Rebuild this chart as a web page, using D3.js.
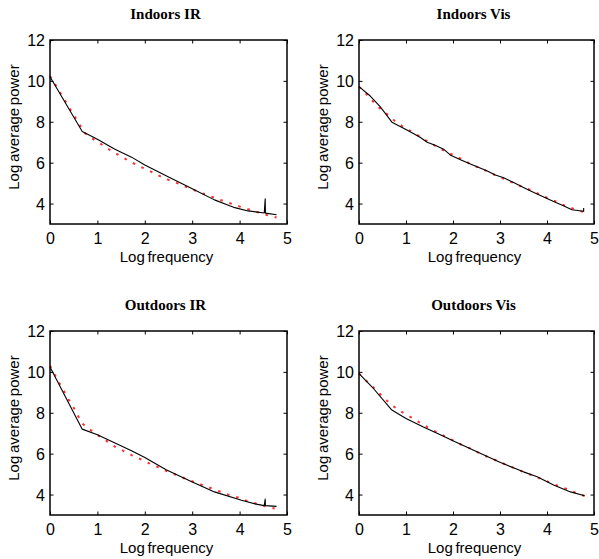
<!DOCTYPE html>
<html>
<head>
<meta charset="utf-8">
<script src="https://cdn.jsdelivr.net/npm/d3@7"></script>
<style>
  html, body { margin: 0; padding: 0; background: #fff; }
  svg { display: block; }
  .tick text { font-family: "Liberation Sans", Arial, Helvetica, sans-serif; font-size: 16px; fill: #000; }
  .lab { font-family: "Liberation Sans", Arial, Helvetica, sans-serif; font-size: 15px; fill: #000; word-spacing: -1.5px; }
  .ttl { font-family: "Liberation Serif", "Times New Roman", Times, serif; font-size: 15px; font-weight: bold; fill: #000; }
</style>
</head>
<body>
<svg id="chart" width="599" height="559"></svg>
<script>
// ---- data (x = log frequency, y = log average power) ----
const titles = ["Indoors IR", "Indoors Vis", "Outdoors IR", "Outdoors Vis"];
const xTicks = [0, 1, 2, 3, 4, 5];
const yTicks = [4, 6, 8, 10, 12];
const xLabel = "Log frequency";
const yLabel = "Log average power";

const indoorsIR = [[0,10.2],[0.68,7.52],[1.0,7.15],[1.36,6.67],[1.72,6.27],[2.0,5.89],[2.46,5.35],[2.98,4.75],[3.47,4.18],[3.79,3.89],[3.9,3.80],[4.18,3.64],[4.52,3.54],[4.54,4.23],[4.545,3.53],[4.78,3.45]];
const indoorsIRFit = [[0,10.24],[0.73,7.46],[0.89,7.19],[1.07,6.92],[1.24,6.66],[1.42,6.41],[1.60,6.17],[1.77,5.96],[1.95,5.76],[2.14,5.55],[2.31,5.35],[2.50,5.16],[2.68,5.0],[2.86,4.83],[3.05,4.65],[3.24,4.48],[3.44,4.31],[3.63,4.15],[3.83,3.99],[4.02,3.84],[4.21,3.70],[4.40,3.56],[4.59,3.43],[4.78,3.32]];

const indoorsVis = [[0,9.72],[0.24,9.26],[0.45,8.74],[0.70,7.98],[1.0,7.62],[1.30,7.24],[1.45,7.0],[1.62,6.85],[1.80,6.66],[1.94,6.38],[2.16,6.14],[2.37,5.94],[2.55,5.76],[2.72,5.60],[2.9,5.40],[3.08,5.26],[3.29,5.03],[3.5,4.79],[3.72,4.54],[3.93,4.32],[4.14,4.10],[4.35,3.89],[4.53,3.70],[4.78,3.62],[4.78,3.78]];
const indoorsVisFit = [[0,9.72],[0.16,9.35],[0.30,8.99],[0.44,8.66],[0.6,8.37],[0.75,8.06],[0.91,7.80],[1.09,7.55],[1.27,7.31],[1.43,7.08],[1.61,6.84],[1.79,6.61],[1.98,6.40],[2.16,6.20],[2.33,5.99],[2.52,5.78],[2.71,5.60],[2.9,5.39],[3.08,5.21],[3.27,5.02],[3.45,4.84],[3.65,4.66],[3.82,4.47],[4.01,4.28],[4.2,4.09],[4.39,3.89],[4.58,3.73],[4.78,3.58]];

const outdoorsIR = [[0,10.24],[0.68,7.2],[1.0,6.92],[1.36,6.54],[1.72,6.14],[2.0,5.81],[2.45,5.21],[2.98,4.64],[3.47,4.13],[4.04,3.72],[4.35,3.53],[4.52,3.46],[4.54,3.78],[4.545,3.46],[4.78,3.42]];
const outdoorsIRFit = [[0,10.3],[0.19,9.48],[0.30,9.04],[0.39,8.66],[0.5,8.25],[0.59,7.85],[0.70,7.44],[0.86,7.15],[1.03,6.87],[1.2,6.61],[1.36,6.36],[1.55,6.14],[1.73,5.92],[1.91,5.73],[2.09,5.53],[2.28,5.34],[2.45,5.16],[2.64,4.98],[2.83,4.80],[3.02,4.63],[3.21,4.47],[3.4,4.31],[3.58,4.15],[3.78,3.98],[3.97,3.86],[4.16,3.69],[4.35,3.56],[4.54,3.43],[4.74,3.32]];

const outdoorsVis = [[0,9.92],[0.28,9.26],[0.69,8.15],[1.0,7.72],[1.37,7.30],[1.73,6.92],[2.01,6.62],[2.44,6.17],[3.01,5.57],[3.5,5.11],[3.79,4.87],[4.14,4.47],[4.5,4.13],[4.8,3.94]];
const outdoorsVisFit = [[0,9.92],[0.16,9.56],[0.31,9.23],[0.45,8.91],[0.6,8.58],[0.75,8.29],[0.91,8.04],[1.09,7.80],[1.27,7.55],[1.43,7.33],[1.61,7.10],[1.79,6.89],[1.98,6.67],[2.16,6.46],[2.35,6.27],[2.53,6.06],[2.72,5.86],[2.91,5.68],[3.09,5.50],[3.28,5.32],[3.46,5.14],[3.65,4.97],[3.85,4.79],[4.04,4.61],[4.23,4.43],[4.42,4.27],[4.61,4.09],[4.8,3.93]];

const measured = [indoorsIR, indoorsVis, outdoorsIR, outdoorsVis];
const fitted = [indoorsIRFit, indoorsVisFit, outdoorsIRFit, outdoorsVisFit];

// ---- layout ----
const panels = [
  {left: 50,  right: 287, top: 40,  bottom: 224},
  {left: 359, right: 594, top: 40,  bottom: 224},
  {left: 50,  right: 287, top: 331, bottom: 515},
  {left: 359, right: 594, top: 331, bottom: 515}
];

const svg = d3.select("#chart");

panels.forEach((p, i) => {
  const x = d3.scaleLinear().domain([0, 5]).range([p.left, p.right]);
  const y = d3.scaleLinear().domain([3, 12]).range([p.bottom, p.top]);
  const g = svg.append("g");

  // axes with inward ticks
  const ax = g.append("g").attr("transform", `translate(0,${p.bottom})`)
    .call(d3.axisBottom(x).tickValues(xTicks).tickSizeInner(-3.5).tickSizeOuter(0).tickPadding(9).tickFormat(d3.format("d")));
  const axT = g.append("g").attr("transform", `translate(0,${p.top})`)
    .call(d3.axisTop(x).tickValues(xTicks).tickSizeInner(-3.5).tickSizeOuter(0).tickFormat(""));
  const ay = g.append("g").attr("transform", `translate(${p.left},0)`)
    .call(d3.axisLeft(y).tickValues(yTicks).tickSizeInner(-3.5).tickSizeOuter(0).tickPadding(5).tickFormat(d3.format("d")));
  const ayR = g.append("g").attr("transform", `translate(${p.right},0)`)
    .call(d3.axisRight(y).tickValues(yTicks).tickSizeInner(-3.5).tickSizeOuter(0).tickFormat(""));
  [ax, axT, ay, ayR].forEach(a => {
    a.select(".domain").remove();
    a.selectAll(".tick line").attr("stroke", "#000").attr("stroke-width", 1);
    a.attr("font-family", null).attr("font-size", null);
  });
  ax.selectAll(".tick text").attr("dy", "0.71em");
  ay.selectAll(".tick text").attr("dy", "0.35em");

  const line = d3.line().x(d => x(d[0])).y(d => y(d[1]));

  // fitted (red dotted)
  g.append("path").datum(fitted[i])
    .attr("d", line).attr("fill", "none")
    .attr("stroke", "#ff3030").attr("stroke-width", 2)
    .attr("stroke-dasharray", "2.6,6.9");

  // measured (black solid)
  g.append("path").datum(measured[i])
    .attr("d", line).attr("fill", "none")
    .attr("stroke", "#000").attr("stroke-width", 1.1)
    .attr("stroke-linejoin", "round");

  // box
  g.append("rect").attr("x", p.left).attr("y", p.top)
    .attr("width", p.right - p.left).attr("height", p.bottom - p.top)
    .attr("fill", "none").attr("stroke", "#000").attr("stroke-width", 1.5);

  // title
  g.append("text").attr("class", "ttl")
    .attr("x", (p.left + p.right) / 2 - 3).attr("y", p.top - 21)
    .attr("text-anchor", "middle").text(titles[i]);

  // x label
  g.append("text").attr("class", "lab")
    .attr("x", (p.left + p.right) / 2 - 2).attr("y", p.bottom + 38)
    .attr("text-anchor", "middle").text(xLabel);

  // y label
  g.append("text").attr("class", "lab")
    .attr("transform", `translate(${p.left - 31},${p.top + 87}) rotate(-90)`)
    .attr("text-anchor", "middle").text(yLabel);
});
</script>
</body>
</html>
